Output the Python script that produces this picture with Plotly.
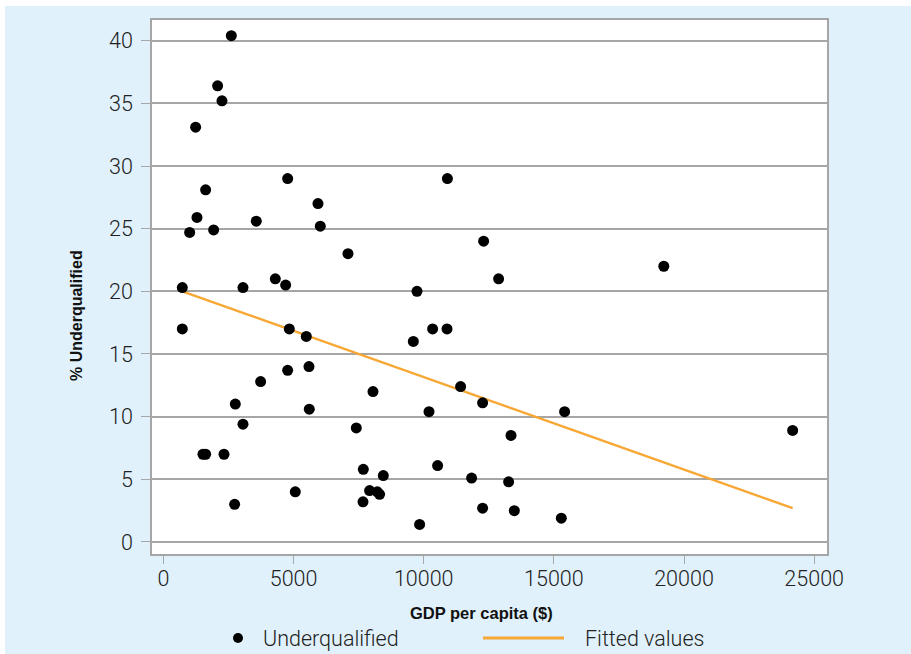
import plotly.graph_objects as go

# GDP per capita ($) and share of workers who are underqualified (%)
gdp_per_capita = [
    2609, 2083, 2250, 1238, 1622, 1290, 1008, 1930, 3569, 4773,
    5938, 6028, 7091, 726, 3057, 4299, 4696, 726, 4837, 5490,
    4773, 5593, 3735, 8052, 2762, 5605, 3057, 7411, 1521, 1622,
    2328, 7680, 8448, 5067, 7922, 8218, 8306, 7668, 2736, 12302,
    12878, 9742, 10342, 10895, 9601, 11418, 12263, 10203, 15413, 13354,
    10534, 11840, 13262, 12263, 13481, 15286, 9843, 10910, 19224, 24173,
]
underqualified = [
    40.4, 36.4, 35.2, 33.1, 28.1, 25.9, 24.7, 24.9, 25.6, 29.0,
    27.0, 25.2, 23.0, 20.3, 20.3, 21.0, 20.5, 17.0, 17.0, 16.4,
    13.7, 14.0, 12.8, 12.0, 11.0, 10.6, 9.4, 9.1, 7.0, 7.0,
    7.0, 5.8, 5.3, 4.0, 4.1, 4.0, 3.8, 3.2, 3.0, 24.0,
    21.0, 20.0, 17.0, 17.0, 16.0, 12.4, 11.1, 10.4, 10.4, 8.5,
    6.1, 5.1, 4.8, 2.7, 2.5, 1.9, 1.4, 29.0, 22.0, 8.9,
]

# Linear fit endpoints (fitted values at the smallest and largest GDP)
fit_x = [726, 24173]
fit_y = [20.0, 2.7]

x_ticks = [0, 5000, 10000, 15000, 20000, 25000]
x_tick_labels = ["0", "5000", "10000", "15000", "20000", "25000"]
y_ticks = [0, 5, 10, 15, 20, 25, 30, 35, 40]
y_tick_labels = ["0", "5", "10", "15", "20", "25", "30", "35", "40"]

W, H = 911, 654
ML, MR, MT, MB = 152, 84, 20, 100
PW, PH = W - ML - MR, H - MT - MB

BG = "#e0f1fb"
GRID = "#a6a6a6"
ORANGE = "#f7a733"
LIGHT = dict(family="Roboto, Lato, sans-serif", size=21.5, color="#222222", weight=300)


def px_x(p):
    return (p - ML) / PW


def px_y(p):
    return (H - MB - p) / PH


fig = go.Figure()
fig.add_trace(go.Scatter(
    x=fit_x, y=fit_y, mode="lines",
    line=dict(color=ORANGE, width=2.5),
    name="Fitted values", showlegend=False,
))
fig.add_trace(go.Scatter(
    x=gdp_per_capita, y=underqualified, mode="markers",
    marker=dict(color="black", size=11, line=dict(width=0)),
    name="Underqualified", showlegend=False,
))

shapes = [
    # white page edge at top and left
    dict(type="rect", xref="paper", yref="paper",
         x0=px_x(0), x1=px_x(W), y0=px_y(6), y1=px_y(0),
         fillcolor="white", line=dict(width=0), layer="below"),
    dict(type="rect", xref="paper", yref="paper",
         x0=px_x(0), x1=px_x(5), y0=px_y(H), y1=px_y(0),
         fillcolor="white", line=dict(width=0), layer="below"),
    # legend keys
    dict(type="circle", xref="paper", yref="paper",
         x0=px_x(233), x1=px_x(243), y0=px_y(643), y1=px_y(633),
         fillcolor="black", line=dict(width=0)),
    dict(type="line", xref="paper", yref="paper",
         x0=px_x(483), x1=px_x(564), y0=px_y(638), y1=px_y(638),
         line=dict(color=ORANGE, width=3)),
]

annotations = [
    dict(text="Underqualified", xref="paper", yref="paper",
         x=px_x(261), y=px_y(638), xanchor="left", yanchor="middle",
         showarrow=False, font=LIGHT),
    dict(text="Fitted values", xref="paper", yref="paper",
         x=px_x(583), y=px_y(638), xanchor="left", yanchor="middle",
         showarrow=False, font=LIGHT),
    dict(text="<b>GDP per capita ($)</b>", xref="paper", yref="paper",
         x=px_x(481), y=px_y(613), xanchor="center", yanchor="middle",
         showarrow=False,
         font=dict(family="Liberation Sans, Arial, sans-serif",
                   size=16.5, color="#111111")),
    dict(text="<b>% Underqualified</b>", xref="paper", yref="paper",
         x=px_x(76), y=px_y(316), xanchor="center", yanchor="middle",
         textangle=-90, showarrow=False,
         font=dict(family="Liberation Sans, Arial, sans-serif", size=16, color="#111111")),
]

fig.update_layout(
    width=W, height=H,
    margin=dict(l=ML, r=MR, t=MT, b=MB, pad=0),
    paper_bgcolor=BG, plot_bgcolor="white",
    showlegend=False,
    shapes=shapes, annotations=annotations,
)
fig.update_xaxes(
    range=[-438, 25493], tickvals=x_ticks, ticktext=x_tick_labels,
    showgrid=False, zeroline=False,
    showline=True, mirror=True, linecolor=GRID, linewidth=1.5,
    ticks="outside", ticklen=8, tickwidth=1.2, tickcolor=GRID,
    tickfont=LIGHT, ticklabelstandoff=-4,
)
fig.update_yaxes(
    range=[-0.96, 41.65], tickvals=y_ticks, ticktext=y_tick_labels,
    showgrid=True, gridcolor=GRID, gridwidth=1.5, zeroline=False,
    showline=True, mirror=True, linecolor=GRID, linewidth=1.5,
    ticks="outside", ticklen=9, tickwidth=1.2, tickcolor=GRID,
    tickfont=LIGHT, ticklabelstandoff=4,
)

fig.write_html("out.html")
